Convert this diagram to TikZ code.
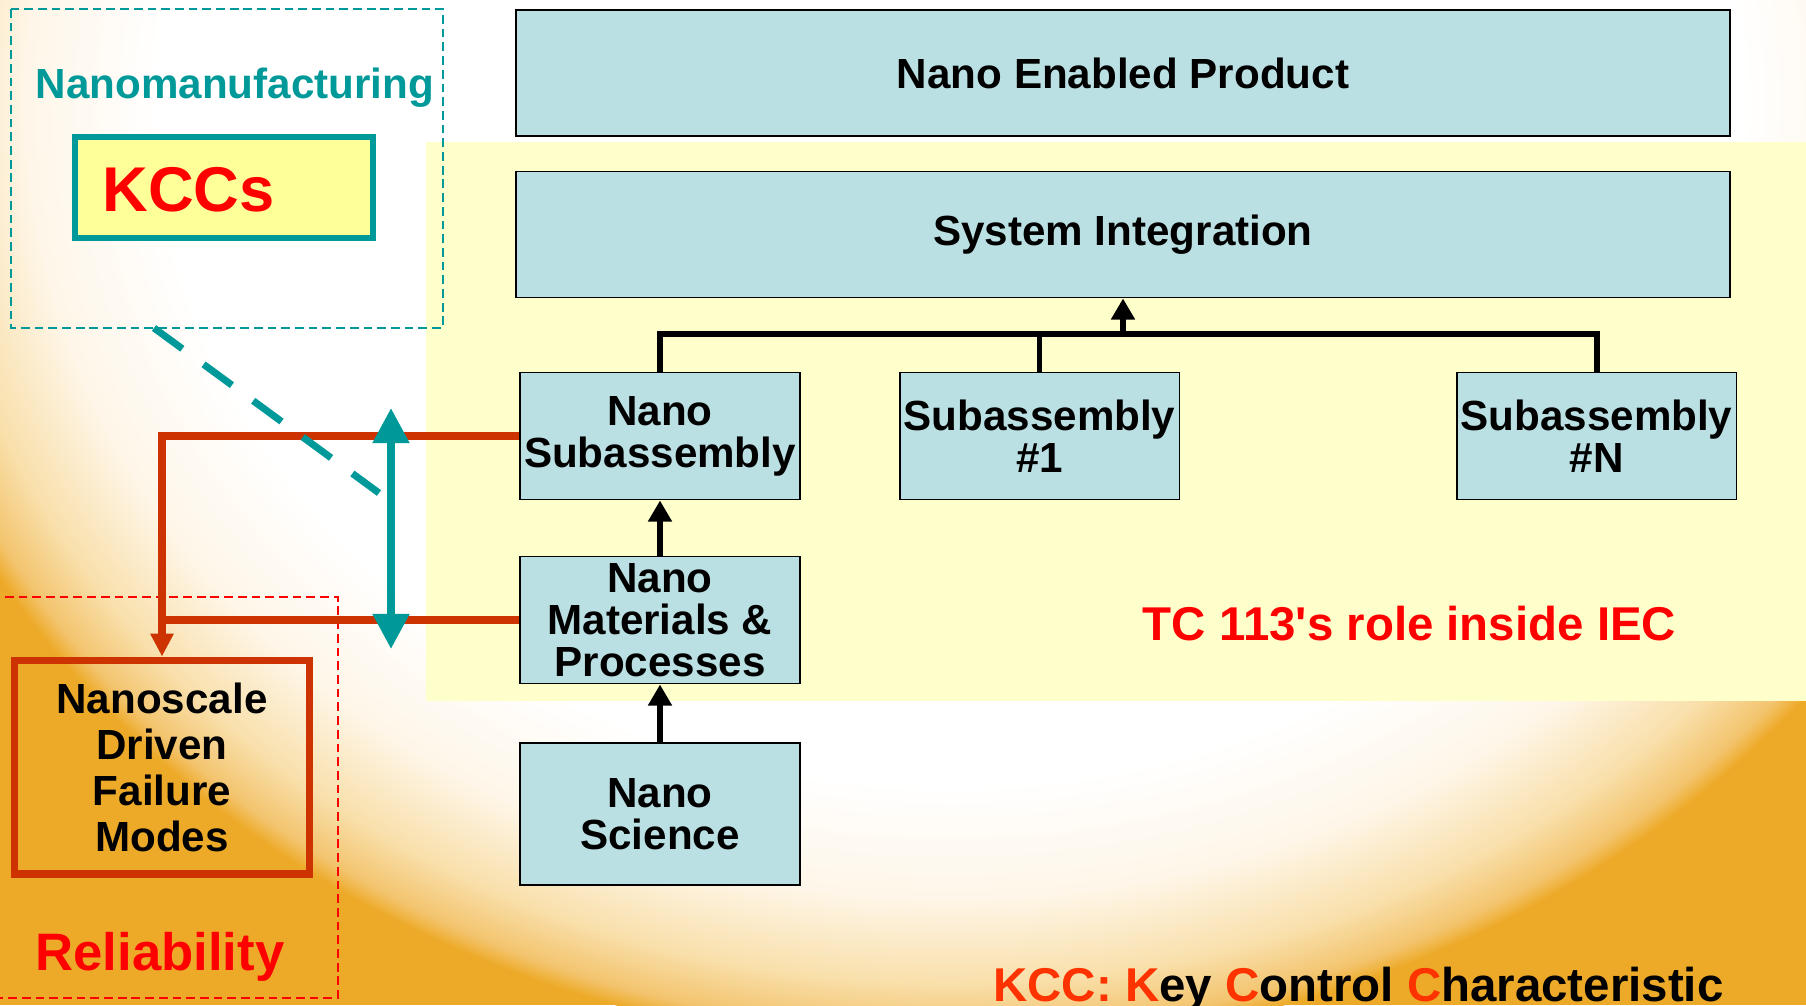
\documentclass[tikz,border=0pt]{standalone}
\usepackage{fontspec}
\setmainfont{Liberation Sans}
\usetikzlibrary{arrows.meta}

\definecolor{boxblue}{RGB}{186,224,227}
\definecolor{bgyellow}{RGB}{255,255,204}
\definecolor{kccyellow}{RGB}{255,255,153}
\definecolor{tealline}{RGB}{0,153,153}
\definecolor{rustline}{RGB}{204,51,0}
\definecolor{kccred}{RGB}{255,51,0}
\definecolor{bgorange}{RGB}{237,170,40}
\definecolor{bgmid}{RGB}{243,196,110}
\definecolor{bglight}{RGB}{249,224,172}
\definecolor{bgcream}{RGB}{254,246,232}

\pgfdeclareradialshading{glow}{\pgfpointorigin}{color(0bp)=(white); color(18bp)=(white); color(21bp)=(bgcream); color(23.2bp)=(bglight); color(24.5bp)=(bgmid); color(25bp)=(bgorange); color(50bp)=(bgorange)}

\begin{document}
\begin{tikzpicture}[x=0.02cm, y=-0.02cm,
    block/.style={draw=black, line width=1.1pt, fill=boxblue, align=center, inner sep=0pt,
      font=\fontsize{24}{24}\selectfont\bfseries},
    wideblock/.style={block, minimum width=24.3cm, minimum height=2.52cm},
    smallblock/.style={block, minimum width=5.6cm, minimum height=2.54cm},
    failbox/.style={draw=rustline, line width=4pt, align=center, inner sep=0pt,
      minimum width=5.92cm, minimum height=4.28cm, font=\fontsize{24}{26.2}\selectfont\bfseries},
    kccbox/.style={draw=tealline, line width=3pt, fill=kccyellow, inner sep=0pt,
      minimum width=5.96cm, minimum height=2.02cm},
    label/.style={inner sep=0pt, font=\fontsize{#1}{#1}\selectfont\bfseries},
    mfgframe/.style={draw=tealline, line width=0.9pt, dash pattern=on 5pt off 2.8pt},
    relframe/.style={draw=red, line width=0.9pt, dash pattern=on 5pt off 2.8pt},
    uparrow/.style={line width=3.2pt, -{Triangle[length=12pt,width=13pt]}},
    busline/.style={line width=3.4pt, line join=miter},
    rustwire/.style={rustline, line width=4pt},
    tealboth/.style={tealline, line width=4.5pt,
      {Triangle[length=20pt,width=20pt]}-{Triangle[length=20pt,width=20pt]}},
    kccdash/.style={tealline, line width=4pt, dash pattern=on 20pt off 15pt},
  ]
    \useasboundingbox (0,0) rectangle (1806,1005);

    % Background
    \begin{scope}
        \clip (0,0) rectangle (1806,1005);
        \fill[bgorange] (0,0) rectangle (1806,1005);
        \shade[shading=glow] (950,100) ellipse [x radius=1100, y radius=950];
        \fill[bgyellow] (426,142) rectangle (1806,701);
    \end{scope}

    % Dashed frames
    \draw[mfgframe] (11,9) rectangle (443,328);
    \draw[relframe] (-2,597) rectangle (338,998);

    % Top stage nodes
    \node[wideblock] (product) at (1123,73) {Nano Enabled Product};
    \node[wideblock] (sysint) at (1123,234.5) {System Integration};

    % Second stage nodes
    \node[smallblock] (nanosub) at (660,436) {Nano\\Subassembly};
    \node[smallblock] (sub1) at (1039.5,436) {Subassembly\\\#1};
    \node[smallblock] (subN) at (1596.5,436) {Subassembly\\\#N};

    % Lower nodes
    \node[smallblock] (materials) at (660,620) {Nano\\Materials \&\\Processes};
    \node[smallblock, minimum height=2.84cm] (science) at (660,814) {Nano\\Science};

    % Edges
    \coordinate (bus) at (1123,334);
    \draw[busline] (nanosub.north) -- (nanosub.north |- bus) -- (subN.north |- bus) -- (subN.north);
    \draw[busline] (sub1.north) -- (sub1.north |- bus);
    \draw[uparrow] (bus) -- (sysint.south);
    \draw[uparrow] (materials.north) -- (nanosub.south);
    \draw[uparrow] (science.north) -- (materials.south);

    % Left side
    \node[label=24, anchor=base, text=tealline] (mfglabel) at (235,98) {Nanomanufacturing};
    \node[kccbox] (kccs) at (224,187.5) {};
    \node[label=36, anchor=base west, text=red] (kccslabel) at (102,211) {KCCs};
    \node[failbox] (failure) at (162,767) {Nanoscale\\Driven\\Failure\\Modes};
    \node[label=30, anchor=base, text=red] (rellabel) at (160,970) {Reliability};

    % Feedback lines
    \draw[rustwire, -{Triangle[length=13pt,width=12.5pt]}] (nanosub.west) -| (failure.north);
    \draw[rustwire] (materials.west) -- (materials.west -| failure.north);
    \coordinate (tealtop) at (391,408);
    \coordinate (tealbot) at (391,649);
    \draw[tealboth] (tealtop) -- (tealbot);
    \coordinate (kccstart) at (154,328);
    \coordinate (kccend) at (379,493);
    \draw[kccdash] (kccstart) -- (kccend);

    % Notes
    \node[label=27, anchor=base, text=red] (tclabel) at (1409.5,640) {TC 113\textquotesingle s role inside IEC};
    \node[label=27, anchor=base west] (kccnote) at (993,1001)
        {\textcolor{kccred}{KCC: K}ey \textcolor{kccred}{C}ontrol \textcolor{kccred}{C}haracteristic};

\end{tikzpicture}
\end{document}
